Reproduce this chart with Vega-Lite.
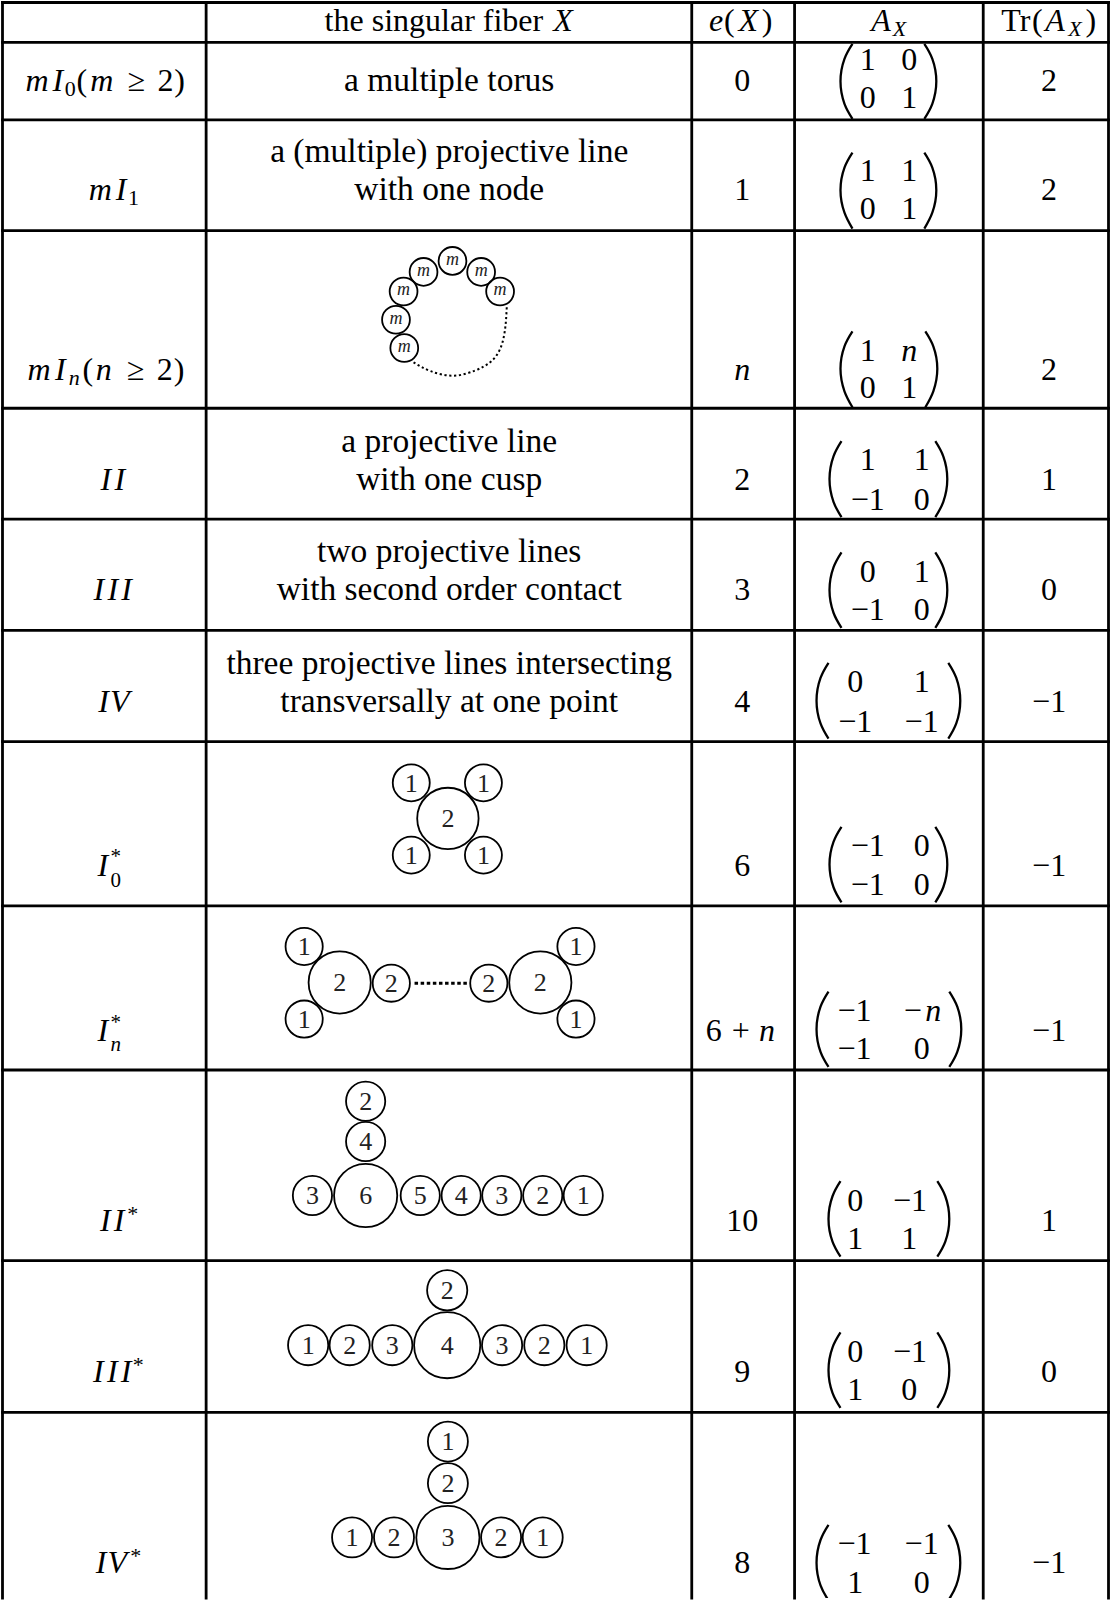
{
  "$schema": "https://vega.github.io/schema/vega-lite/v6.json",
  "width": 1111,
  "height": 1600,
  "padding": 0,
  "autosize": {"type": "fit", "contains": "padding"},
  "background": "white",
  "config": {"view": {"stroke": null}},
  "datasets": {
    "lines": [
      {"x": 1.5, "x2": 1.5, "y": 1.5, "y2": 1600},
      {"x": 205.5, "x2": 205.5, "y": 1.5, "y2": 1600},
      {"x": 692, "x2": 692, "y": 1.5, "y2": 1600},
      {"x": 795, "x2": 795, "y": 1.5, "y2": 1600},
      {"x": 984, "x2": 984, "y": 1.5, "y2": 1600},
      {"x": 1109.5, "x2": 1109.5, "y": 1.5, "y2": 1600},
      {"x": 1.5, "x2": 1109.5, "y": 1.5, "y2": 1.5},
      {"x": 1.5, "x2": 1109.5, "y": 41.5, "y2": 41.5},
      {"x": 1.5, "x2": 1109.5, "y": 119, "y2": 119},
      {"x": 1.5, "x2": 1109.5, "y": 230, "y2": 230},
      {"x": 1.5, "x2": 1109.5, "y": 408, "y2": 408},
      {"x": 1.5, "x2": 1109.5, "y": 519, "y2": 519},
      {"x": 1.5, "x2": 1109.5, "y": 630.5, "y2": 630.5},
      {"x": 1.5, "x2": 1109.5, "y": 742, "y2": 742},
      {"x": 1.5, "x2": 1109.5, "y": 906.5, "y2": 906.5},
      {"x": 1.5, "x2": 1109.5, "y": 1071, "y2": 1071},
      {"x": 1.5, "x2": 1109.5, "y": 1262, "y2": 1262},
      {"x": 1.5, "x2": 1109.5, "y": 1414, "y2": 1414}
    ],
    "dots": [
      {"x": 414.3, "x2": 469.3, "y": 984, "y2": 984}
    ],
    "arc": [
      {"i": 0, "x": 413.3, "y": 362},
      {"i": 1, "x": 430, "y": 370.7},
      {"i": 2, "x": 453.3, "y": 375.4},
      {"i": 3, "x": 475, "y": 370.2},
      {"i": 4, "x": 490, "y": 362},
      {"i": 5, "x": 500, "y": 348.7},
      {"i": 6, "x": 505, "y": 328.7},
      {"i": 7, "x": 506.7, "y": 306}
    ],
    "parens": [
      {"id": "L1", "i": 0, "x": 853, "y": 43}, {"id": "L1", "i": 1, "x": 845, "y": 58}, {"id": "L1", "i": 2, "x": 841, "y": 80.5}, {"id": "L1", "i": 3, "x": 845, "y": 103}, {"id": "L1", "i": 4, "x": 853, "y": 118},
      {"id": "R1", "i": 0, "x": 925, "y": 43}, {"id": "R1", "i": 1, "x": 933, "y": 58}, {"id": "R1", "i": 2, "x": 937, "y": 80.5}, {"id": "R1", "i": 3, "x": 933, "y": 103}, {"id": "R1", "i": 4, "x": 925, "y": 118},
      {"id": "L2", "i": 0, "x": 853, "y": 152}, {"id": "L2", "i": 1, "x": 845, "y": 167}, {"id": "L2", "i": 2, "x": 841, "y": 189.5}, {"id": "L2", "i": 3, "x": 845, "y": 212}, {"id": "L2", "i": 4, "x": 853, "y": 228},
      {"id": "R2", "i": 0, "x": 925, "y": 152}, {"id": "R2", "i": 1, "x": 933, "y": 167}, {"id": "R2", "i": 2, "x": 937, "y": 189.5}, {"id": "R2", "i": 3, "x": 933, "y": 212}, {"id": "R2", "i": 4, "x": 925, "y": 228},
      {"id": "L3", "i": 0, "x": 853, "y": 331}, {"id": "L3", "i": 1, "x": 845, "y": 346}, {"id": "L3", "i": 2, "x": 841, "y": 368.5}, {"id": "L3", "i": 3, "x": 845, "y": 391}, {"id": "L3", "i": 4, "x": 853, "y": 407},
      {"id": "R3", "i": 0, "x": 926, "y": 331}, {"id": "R3", "i": 1, "x": 934, "y": 346}, {"id": "R3", "i": 2, "x": 938, "y": 368.5}, {"id": "R3", "i": 3, "x": 934, "y": 391}, {"id": "R3", "i": 4, "x": 926, "y": 407},
      {"id": "L4", "i": 0, "x": 842, "y": 441}, {"id": "L4", "i": 1, "x": 834, "y": 456.2}, {"id": "L4", "i": 2, "x": 830, "y": 479}, {"id": "L4", "i": 3, "x": 834, "y": 501.8}, {"id": "L4", "i": 4, "x": 842, "y": 517},
      {"id": "R4", "i": 0, "x": 936, "y": 441}, {"id": "R4", "i": 1, "x": 944, "y": 456.2}, {"id": "R4", "i": 2, "x": 948, "y": 479}, {"id": "R4", "i": 3, "x": 944, "y": 501.8}, {"id": "R4", "i": 4, "x": 936, "y": 517},
      {"id": "L5", "i": 0, "x": 842, "y": 552.4}, {"id": "L5", "i": 1, "x": 834, "y": 567.5}, {"id": "L5", "i": 2, "x": 830, "y": 590.2}, {"id": "L5", "i": 3, "x": 834, "y": 612.9}, {"id": "L5", "i": 4, "x": 842, "y": 628},
      {"id": "R5", "i": 0, "x": 936, "y": 552.4}, {"id": "R5", "i": 1, "x": 944, "y": 567.5}, {"id": "R5", "i": 2, "x": 948, "y": 590.2}, {"id": "R5", "i": 3, "x": 944, "y": 612.9}, {"id": "R5", "i": 4, "x": 936, "y": 628},
      {"id": "L6", "i": 0, "x": 829, "y": 663}, {"id": "L6", "i": 1, "x": 821, "y": 678.2}, {"id": "L6", "i": 2, "x": 817, "y": 701}, {"id": "L6", "i": 3, "x": 821, "y": 723.8}, {"id": "L6", "i": 4, "x": 829, "y": 739},
      {"id": "R6", "i": 0, "x": 949, "y": 663}, {"id": "R6", "i": 1, "x": 957, "y": 678.2}, {"id": "R6", "i": 2, "x": 961, "y": 701}, {"id": "R6", "i": 3, "x": 957, "y": 723.8}, {"id": "R6", "i": 4, "x": 949, "y": 739},
      {"id": "L7", "i": 0, "x": 842, "y": 827.4}, {"id": "L7", "i": 1, "x": 834, "y": 842.5}, {"id": "L7", "i": 2, "x": 830, "y": 865.2}, {"id": "L7", "i": 3, "x": 834, "y": 887.9}, {"id": "L7", "i": 4, "x": 842, "y": 903},
      {"id": "R7", "i": 0, "x": 936, "y": 827.4}, {"id": "R7", "i": 1, "x": 944, "y": 842.5}, {"id": "R7", "i": 2, "x": 948, "y": 865.2}, {"id": "R7", "i": 3, "x": 944, "y": 887.9}, {"id": "R7", "i": 4, "x": 936, "y": 903},
      {"id": "L8", "i": 0, "x": 829, "y": 992.4}, {"id": "L8", "i": 1, "x": 821, "y": 1007.5}, {"id": "L8", "i": 2, "x": 817, "y": 1030.2}, {"id": "L8", "i": 3, "x": 821, "y": 1052.9}, {"id": "L8", "i": 4, "x": 829, "y": 1068},
      {"id": "R8", "i": 0, "x": 950, "y": 992.4}, {"id": "R8", "i": 1, "x": 958, "y": 1007.5}, {"id": "R8", "i": 2, "x": 962, "y": 1030.2}, {"id": "R8", "i": 3, "x": 958, "y": 1052.9}, {"id": "R8", "i": 4, "x": 950, "y": 1068},
      {"id": "L9", "i": 0, "x": 841, "y": 1182.4}, {"id": "L9", "i": 1, "x": 833, "y": 1197.5}, {"id": "L9", "i": 2, "x": 829, "y": 1220.2}, {"id": "L9", "i": 3, "x": 833, "y": 1242.9}, {"id": "L9", "i": 4, "x": 841, "y": 1258},
      {"id": "R9", "i": 0, "x": 938, "y": 1182.4}, {"id": "R9", "i": 1, "x": 946, "y": 1197.5}, {"id": "R9", "i": 2, "x": 950, "y": 1220.2}, {"id": "R9", "i": 3, "x": 946, "y": 1242.9}, {"id": "R9", "i": 4, "x": 938, "y": 1258},
      {"id": "L10", "i": 0, "x": 841, "y": 1334}, {"id": "L10", "i": 1, "x": 833, "y": 1349.1}, {"id": "L10", "i": 2, "x": 829, "y": 1371.7}, {"id": "L10", "i": 3, "x": 833, "y": 1394.4}, {"id": "L10", "i": 4, "x": 841, "y": 1409.5},
      {"id": "R10", "i": 0, "x": 938, "y": 1334}, {"id": "R10", "i": 1, "x": 946, "y": 1349.1}, {"id": "R10", "i": 2, "x": 950, "y": 1371.7}, {"id": "R10", "i": 3, "x": 946, "y": 1394.4}, {"id": "R10", "i": 4, "x": 938, "y": 1409.5},
      {"id": "L11", "i": 0, "x": 829, "y": 1526.7}, {"id": "L11", "i": 1, "x": 821, "y": 1541.9}, {"id": "L11", "i": 2, "x": 817, "y": 1564.6}, {"id": "L11", "i": 3, "x": 821, "y": 1587.3}, {"id": "L11", "i": 4, "x": 829, "y": 1602.5},
      {"id": "R11", "i": 0, "x": 949, "y": 1526.7}, {"id": "R11", "i": 1, "x": 957, "y": 1541.9}, {"id": "R11", "i": 2, "x": 961, "y": 1564.6}, {"id": "R11", "i": 3, "x": 957, "y": 1587.3}, {"id": "R11", "i": 4, "x": 949, "y": 1602.5}
    ],
    "circles": [
      {"x": 447.7, "y": 819, "sz": 3770, "l": "2", "k": "d"},
      {"x": 411, "y": 783.3, "sz": 1369, "l": "1", "k": "d"},
      {"x": 483.3, "y": 783.3, "sz": 1369, "l": "1", "k": "d"},
      {"x": 411, "y": 855.7, "sz": 1369, "l": "1", "k": "d"},
      {"x": 483.3, "y": 855.7, "sz": 1369, "l": "1", "k": "d"},
      {"x": 339.3, "y": 983.3, "sz": 3869, "l": "2", "k": "d"},
      {"x": 303.7, "y": 947.3, "sz": 1384, "l": "1", "k": "d"},
      {"x": 303.7, "y": 1020, "sz": 1384, "l": "1", "k": "d"},
      {"x": 391, "y": 984, "sz": 1384, "l": "2", "k": "d"},
      {"x": 488.7, "y": 984, "sz": 1384, "l": "2", "k": "d"},
      {"x": 540.3, "y": 983.3, "sz": 3869, "l": "2", "k": "d"},
      {"x": 576, "y": 947.3, "sz": 1384, "l": "1", "k": "d"},
      {"x": 576, "y": 1020, "sz": 1384, "l": "1", "k": "d"},
      {"x": 365.3, "y": 1102.3, "sz": 1537, "l": "2", "k": "d"},
      {"x": 365.3, "y": 1142.7, "sz": 1537, "l": "4", "k": "d"},
      {"x": 365.3, "y": 1196.7, "sz": 3994, "l": "6", "k": "d"},
      {"x": 312, "y": 1196.7, "sz": 1537, "l": "3", "k": "d"},
      {"x": 420, "y": 1196.7, "sz": 1537, "l": "5", "k": "d"},
      {"x": 461, "y": 1196.7, "sz": 1537, "l": "4", "k": "d"},
      {"x": 501.7, "y": 1196.7, "sz": 1537, "l": "3", "k": "d"},
      {"x": 542.7, "y": 1196.7, "sz": 1537, "l": "2", "k": "d"},
      {"x": 583.3, "y": 1196.7, "sz": 1537, "l": "1", "k": "d"},
      {"x": 447, "y": 1291.7, "sz": 1616, "l": "2", "k": "d"},
      {"x": 447, "y": 1346.7, "sz": 4382, "l": "4", "k": "d"},
      {"x": 307.7, "y": 1346.7, "sz": 1616, "l": "1", "k": "d"},
      {"x": 349.3, "y": 1346.7, "sz": 1616, "l": "2", "k": "d"},
      {"x": 392, "y": 1346.7, "sz": 1616, "l": "3", "k": "d"},
      {"x": 502, "y": 1346.7, "sz": 1616, "l": "3", "k": "d"},
      {"x": 544.3, "y": 1346.7, "sz": 1616, "l": "2", "k": "d"},
      {"x": 586.7, "y": 1346.7, "sz": 1616, "l": "1", "k": "d"},
      {"x": 447.7, "y": 1443.3, "sz": 1600, "l": "1", "k": "d"},
      {"x": 447.7, "y": 1485, "sz": 1600, "l": "2", "k": "d"},
      {"x": 447.7, "y": 1539.3, "sz": 3994, "l": "3", "k": "d"},
      {"x": 351.7, "y": 1539.3, "sz": 1600, "l": "1", "k": "d"},
      {"x": 393.7, "y": 1539.3, "sz": 1600, "l": "2", "k": "d"},
      {"x": 501, "y": 1539.3, "sz": 1600, "l": "2", "k": "d"},
      {"x": 542.7, "y": 1539.3, "sz": 1600, "l": "1", "k": "d"},
      {"x": 423.3, "y": 271.4, "sz": 773, "l": "m", "k": "m"},
      {"x": 452.3, "y": 260.4, "sz": 773, "l": "m", "k": "m"},
      {"x": 481, "y": 271.4, "sz": 773, "l": "m", "k": "m"},
      {"x": 500, "y": 291, "sz": 773, "l": "m", "k": "m"},
      {"x": 403.3, "y": 291, "sz": 773, "l": "m", "k": "m"},
      {"x": 395.7, "y": 319.4, "sz": 773, "l": "m", "k": "m"},
      {"x": 404, "y": 347.7, "sz": 773, "l": "m", "k": "m"}
    ],
    "roman": [
      {"x": 433.7, "y": 30, "t": "the singular fiber", "s": 32},
      {"x": 729.7, "y": 30, "t": "(", "s": 32},
      {"x": 767.5, "y": 30, "t": ")", "s": 32},
      {"x": 1016.7, "y": 30, "t": "Tr", "s": 32},
      {"x": 1038.3, "y": 30, "t": "(", "s": 32},
      {"x": 1091.7, "y": 30, "t": ")", "s": 32},
      {"x": 69.4, "y": 94.7, "t": "0", "s": 22},
      {"x": 81, "y": 90, "t": "(", "s": 32},
      {"x": 135.8, "y": 90, "t": "≥", "s": 32},
      {"x": 164.8, "y": 90, "t": "2", "s": 32},
      {"x": 178.8, "y": 90, "t": ")", "s": 32},
      {"x": 132.7, "y": 204.3, "t": "1", "s": 22},
      {"x": 87, "y": 379.6, "t": "(", "s": 32},
      {"x": 135, "y": 379.6, "t": "≥", "s": 32},
      {"x": 164, "y": 379.6, "t": "2", "s": 32},
      {"x": 178.5, "y": 379.6, "t": ")", "s": 32},
      {"x": 115, "y": 864, "t": "*", "s": 21},
      {"x": 115, "y": 888, "t": "0", "s": 21},
      {"x": 115, "y": 1030, "t": "*", "s": 21},
      {"x": 132, "y": 1222, "t": "*", "s": 22},
      {"x": 137.5, "y": 1373.6, "t": "*", "s": 22},
      {"x": 135, "y": 1565, "t": "*", "s": 22},
      {"x": 449, "y": 90, "t": "a multiple torus", "s": 33.5},
      {"x": 449, "y": 161.6, "t": "a (multiple) projective line", "s": 33.5},
      {"x": 449, "y": 199.6, "t": "with one node", "s": 33.5},
      {"x": 449, "y": 452.3, "t": "a projective line", "s": 33.5},
      {"x": 449, "y": 490.3, "t": "with one cusp", "s": 33.5},
      {"x": 449, "y": 562.3, "t": "two projective lines", "s": 33.5},
      {"x": 449, "y": 600.3, "t": "with second order contact", "s": 33.5},
      {"x": 449, "y": 674, "t": "three projective lines intersecting", "s": 33.5},
      {"x": 449, "y": 712, "t": "transversally at one point", "s": 33.5},
      {"x": 742.7, "y": 90, "t": "0", "s": 32},
      {"x": 742.7, "y": 199.6, "t": "1", "s": 32},
      {"x": 742.7, "y": 490.3, "t": "2", "s": 32},
      {"x": 742.7, "y": 600.3, "t": "3", "s": 32},
      {"x": 742.7, "y": 712, "t": "4", "s": 32},
      {"x": 742.7, "y": 877, "t": "6", "s": 32},
      {"x": 714, "y": 1042, "t": "6", "s": 32},
      {"x": 741, "y": 1042, "t": "+", "s": 32},
      {"x": 742.7, "y": 1232, "t": "10", "s": 32},
      {"x": 742.7, "y": 1383.6, "t": "9", "s": 32},
      {"x": 742.7, "y": 1575.3, "t": "8", "s": 32},
      {"x": 1050, "y": 90, "t": "2", "s": 32},
      {"x": 1050, "y": 199.6, "t": "2", "s": 32},
      {"x": 1050, "y": 379.6, "t": "2", "s": 32},
      {"x": 1050, "y": 490.3, "t": "1", "s": 32},
      {"x": 1050, "y": 600.3, "t": "0", "s": 32},
      {"x": 1050, "y": 712, "t": "−1", "s": 32},
      {"x": 1050, "y": 877, "t": "−1", "s": 32},
      {"x": 1050, "y": 1042, "t": "−1", "s": 32},
      {"x": 1050, "y": 1232, "t": "1", "s": 32},
      {"x": 1050, "y": 1383.6, "t": "0", "s": 32},
      {"x": 1050, "y": 1575.3, "t": "−1", "s": 32},
      {"x": 868.3, "y": 69.6, "t": "1", "s": 32},
      {"x": 910, "y": 69.6, "t": "0", "s": 32},
      {"x": 868.3, "y": 107.3, "t": "0", "s": 32},
      {"x": 910, "y": 107.3, "t": "1", "s": 32},
      {"x": 868.3, "y": 180.6, "t": "1", "s": 32},
      {"x": 910, "y": 180.6, "t": "1", "s": 32},
      {"x": 868.3, "y": 218, "t": "0", "s": 32},
      {"x": 910, "y": 218, "t": "1", "s": 32},
      {"x": 868.3, "y": 360.6, "t": "1", "s": 32},
      {"x": 868.3, "y": 398, "t": "0", "s": 32},
      {"x": 910, "y": 398, "t": "1", "s": 32},
      {"x": 868.3, "y": 470.3, "t": "1", "s": 32},
      {"x": 922.3, "y": 470.3, "t": "1", "s": 32},
      {"x": 868.3, "y": 509.6, "t": "−1", "s": 32},
      {"x": 922.3, "y": 509.6, "t": "0", "s": 32},
      {"x": 868.3, "y": 582, "t": "0", "s": 32},
      {"x": 922.3, "y": 582, "t": "1", "s": 32},
      {"x": 868.3, "y": 620.3, "t": "−1", "s": 32},
      {"x": 922.3, "y": 620.3, "t": "0", "s": 32},
      {"x": 855.7, "y": 692, "t": "0", "s": 32},
      {"x": 922.3, "y": 692, "t": "1", "s": 32},
      {"x": 855.7, "y": 732, "t": "−1", "s": 32},
      {"x": 922.3, "y": 732, "t": "−1", "s": 32},
      {"x": 868.3, "y": 857, "t": "−1", "s": 32},
      {"x": 922.3, "y": 857, "t": "0", "s": 32},
      {"x": 868.3, "y": 895.3, "t": "−1", "s": 32},
      {"x": 922.3, "y": 895.3, "t": "0", "s": 32},
      {"x": 855, "y": 1022, "t": "−1", "s": 32},
      {"x": 913.3, "y": 1022, "t": "−", "s": 32},
      {"x": 855, "y": 1060.3, "t": "−1", "s": 32},
      {"x": 922.3, "y": 1060.3, "t": "0", "s": 32},
      {"x": 855.7, "y": 1212, "t": "0", "s": 32},
      {"x": 910.7, "y": 1212, "t": "−1", "s": 32},
      {"x": 855.7, "y": 1250.3, "t": "1", "s": 32},
      {"x": 910, "y": 1250.3, "t": "1", "s": 32},
      {"x": 855.7, "y": 1363.6, "t": "0", "s": 32},
      {"x": 910.7, "y": 1363.6, "t": "−1", "s": 32},
      {"x": 855.7, "y": 1402, "t": "1", "s": 32},
      {"x": 910, "y": 1402, "t": "0", "s": 32},
      {"x": 855, "y": 1556.3, "t": "−1", "s": 32},
      {"x": 922.3, "y": 1556.3, "t": "−1", "s": 32},
      {"x": 855.7, "y": 1594.6, "t": "1", "s": 32},
      {"x": 922.3, "y": 1594.6, "t": "0", "s": 32}
    ],
    "italic": [
      {"x": 563, "y": 30, "t": "X", "s": 32},
      {"x": 716.5, "y": 30, "t": "e", "s": 32},
      {"x": 748.6, "y": 30, "t": "X", "s": 32},
      {"x": 881.7, "y": 30, "t": "A", "s": 32},
      {"x": 900, "y": 35, "t": "X", "s": 22},
      {"x": 1055.8, "y": 30, "t": "A", "s": 32},
      {"x": 1075.8, "y": 35, "t": "X", "s": 22},
      {"x": 36.2, "y": 90, "t": "m", "s": 32},
      {"x": 57, "y": 90, "t": "I", "s": 32},
      {"x": 101, "y": 90, "t": "m", "s": 32},
      {"x": 99.5, "y": 199.6, "t": "m", "s": 32},
      {"x": 120.3, "y": 199.6, "t": "I", "s": 32},
      {"x": 38, "y": 379.6, "t": "m", "s": 32},
      {"x": 59.5, "y": 379.6, "t": "I", "s": 32},
      {"x": 73.5, "y": 384.3, "t": "n", "s": 22},
      {"x": 103, "y": 379.6, "t": "n", "s": 32},
      {"x": 105.1, "y": 490.3, "t": "I", "s": 32},
      {"x": 119, "y": 490.3, "t": "I", "s": 32},
      {"x": 98.1, "y": 600.3, "t": "I", "s": 32},
      {"x": 112, "y": 600.3, "t": "I", "s": 32},
      {"x": 125.9, "y": 600.3, "t": "I", "s": 32},
      {"x": 102.8, "y": 712, "t": "I", "s": 32},
      {"x": 118.9, "y": 712, "t": "V", "s": 32},
      {"x": 102, "y": 877, "t": "I", "s": 32},
      {"x": 102, "y": 1042, "t": "I", "s": 32},
      {"x": 115, "y": 1052, "t": "n", "s": 21},
      {"x": 104.4, "y": 1232, "t": "I", "s": 32},
      {"x": 118.3, "y": 1232, "t": "I", "s": 32},
      {"x": 97.6, "y": 1383.6, "t": "I", "s": 32},
      {"x": 111.5, "y": 1383.6, "t": "I", "s": 32},
      {"x": 125.4, "y": 1383.6, "t": "I", "s": 32},
      {"x": 100.3, "y": 1575.3, "t": "I", "s": 32},
      {"x": 116.5, "y": 1575.3, "t": "V", "s": 32},
      {"x": 742.7, "y": 379.6, "t": "n", "s": 32},
      {"x": 767.5, "y": 1042, "t": "n", "s": 32},
      {"x": 910, "y": 360.6, "t": "n", "s": 32},
      {"x": 934, "y": 1022, "t": "n", "s": 32}
    ]
  },
  "layer": [
    {
      "data": {"name": "lines"},
      "mark": {"type": "rule", "color": "black", "strokeWidth": 2.8, "strokeCap": "square"},
      "encoding": {
        "x": {"field": "x", "type": "quantitative", "scale": {"domain": [0, 1111], "nice": false, "zero": false}, "axis": null},
        "x2": {"field": "x2"},
        "y": {"field": "y", "type": "quantitative", "scale": {"domain": [0, 1600], "nice": false, "zero": false, "reverse": true}, "axis": null},
        "y2": {"field": "y2"}
      }
    },
    {
      "data": {"name": "dots"},
      "mark": {"type": "rule", "color": "black", "strokeWidth": 3, "strokeDash": [3.5, 2.6], "strokeCap": "butt"},
      "encoding": {
        "x": {"field": "x", "type": "quantitative", "scale": {"domain": [0, 1111], "nice": false, "zero": false}, "axis": null},
        "x2": {"field": "x2"},
        "y": {"field": "y", "type": "quantitative", "scale": {"domain": [0, 1600], "nice": false, "zero": false, "reverse": true}, "axis": null},
        "y2": {"field": "y2"}
      }
    },
    {
      "data": {"name": "arc"},
      "mark": {"type": "line", "color": "black", "strokeWidth": 2, "strokeDash": [2.2, 2.6], "interpolate": "natural"},
      "encoding": {
        "x": {"field": "x", "type": "quantitative", "scale": {"domain": [0, 1111], "nice": false, "zero": false}, "axis": null},
        "y": {"field": "y", "type": "quantitative", "scale": {"domain": [0, 1600], "nice": false, "zero": false, "reverse": true}, "axis": null},
        "order": {"field": "i", "type": "quantitative"}
      }
    },
    {
      "data": {"name": "parens"},
      "mark": {"type": "line", "color": "black", "strokeWidth": 2.3, "interpolate": "natural", "clip": true},
      "encoding": {
        "x": {"field": "x", "type": "quantitative", "scale": {"domain": [0, 1111], "nice": false, "zero": false}, "axis": null},
        "y": {"field": "y", "type": "quantitative", "scale": {"domain": [0, 1600], "nice": false, "zero": false, "reverse": true}, "axis": null},
        "detail": {"field": "id", "type": "nominal"},
        "order": {"field": "i", "type": "quantitative"}
      }
    },
    {
      "data": {"name": "circles"},
      "mark": {"type": "point", "shape": "circle", "filled": false, "stroke": "black", "strokeWidth": 1.8, "opacity": 1},
      "encoding": {
        "x": {"field": "x", "type": "quantitative", "scale": {"domain": [0, 1111], "nice": false, "zero": false}, "axis": null},
        "y": {"field": "y", "type": "quantitative", "scale": {"domain": [0, 1600], "nice": false, "zero": false, "reverse": true}, "axis": null},
        "size": {"field": "sz", "type": "quantitative", "scale": null}
      }
    },
    {
      "data": {"name": "circles"},
      "transform": [{"filter": "datum.k == 'd'"}],
      "mark": {"type": "text", "font": "Liberation Serif, DejaVu Serif, serif", "fontSize": 26, "align": "center", "baseline": "alphabetic", "dy": 8.8, "color": "#222"},
      "encoding": {
        "x": {"field": "x", "type": "quantitative", "scale": {"domain": [0, 1111], "nice": false, "zero": false}, "axis": null},
        "y": {"field": "y", "type": "quantitative", "scale": {"domain": [0, 1600], "nice": false, "zero": false, "reverse": true}, "axis": null},
        "text": {"field": "l"}
      }
    },
    {
      "data": {"name": "circles"},
      "transform": [{"filter": "datum.k == 'm'"}],
      "mark": {"type": "text", "font": "Liberation Serif, DejaVu Serif, serif", "fontStyle": "italic", "fontSize": 18, "align": "center", "baseline": "alphabetic", "dy": 4, "color": "#222"},
      "encoding": {
        "x": {"field": "x", "type": "quantitative", "scale": {"domain": [0, 1111], "nice": false, "zero": false}, "axis": null},
        "y": {"field": "y", "type": "quantitative", "scale": {"domain": [0, 1600], "nice": false, "zero": false, "reverse": true}, "axis": null},
        "text": {"field": "l"}
      }
    },
    {
      "data": {"name": "roman"},
      "mark": {"type": "text", "font": "Liberation Serif, DejaVu Serif, serif", "align": "center", "baseline": "alphabetic", "color": "black"},
      "encoding": {
        "x": {"field": "x", "type": "quantitative", "scale": {"domain": [0, 1111], "nice": false, "zero": false}, "axis": null},
        "y": {"field": "y", "type": "quantitative", "scale": {"domain": [0, 1600], "nice": false, "zero": false, "reverse": true}, "axis": null},
        "text": {"field": "t"},
        "size": {"field": "s", "type": "quantitative", "scale": null}
      }
    },
    {
      "data": {"name": "italic"},
      "mark": {"type": "text", "font": "Liberation Serif, DejaVu Serif, serif", "fontStyle": "italic", "align": "center", "baseline": "alphabetic", "color": "black"},
      "encoding": {
        "x": {"field": "x", "type": "quantitative", "scale": {"domain": [0, 1111], "nice": false, "zero": false}, "axis": null},
        "y": {"field": "y", "type": "quantitative", "scale": {"domain": [0, 1600], "nice": false, "zero": false, "reverse": true}, "axis": null},
        "text": {"field": "t"},
        "size": {"field": "s", "type": "quantitative", "scale": null}
      }
    }
  ]
}
